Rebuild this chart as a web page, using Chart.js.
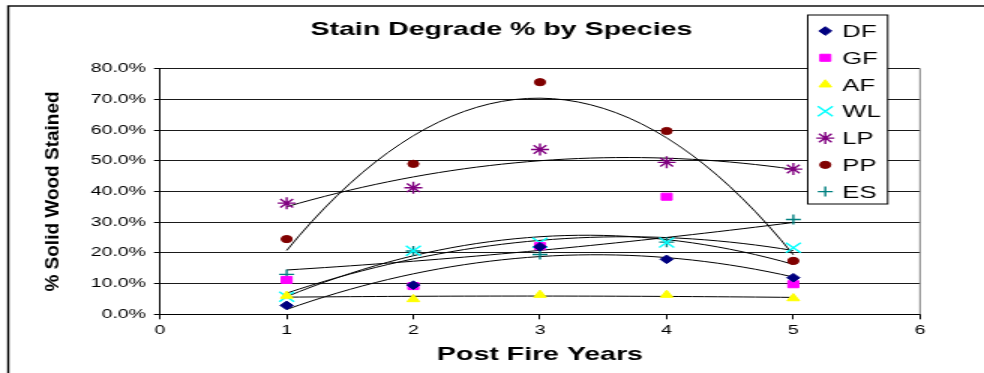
<!DOCTYPE html>
<html>
<head>
<meta charset="utf-8">
<script src="https://cdn.jsdelivr.net/npm/chart.js@4/dist/chart.umd.min.js"></script>
<style>
  html, body { margin: 0; padding: 0; background: #fff; overflow: hidden; }
  /* the original picture is stretched sideways, so the chart is drawn narrow and widened */
  #wrap { width: 656px; height: 373px; transform: scaleX(1.5); transform-origin: 0 0; }
</style>
</head>
<body>
<div id="wrap"><canvas id="myChart" width="656" height="373"></canvas></div>
<script>
'use strict';
let years = [1, 2, 3, 4, 5];
let species = ['DF', 'GF', 'AF', 'WL', 'LP', 'PP', 'ES'];
let dfVals = [2.9, 9.5, 22.0, 17.9, 11.9];
let gfVals = [11.2, 9.2, 22.2, 38.3, 9.8];
let afVals = [6.0, 4.9, 6.3, 6.3, 5.2];
let wlVals = [5.7, 20.7, 23.3, 23.4, 21.7];
let lpVals = [36.2, 41.2, 53.7, 49.5, 47.3];
let ppVals = [24.5, 49.0, 75.6, 59.7, 17.4];
let esVals = [13.0, 20.6, 19.5, 23.5, 30.9];
let allVals = [dfVals, gfVals, afVals, wlVals, lpVals, ppVals, esVals];

let colors = ['#000080', '#FF00FF', '#FFFF00', '#00FFFF', '#800080', '#800000', '#008080'];
let styles = ['rectRot', 'rect', 'triangle', 'crossRot', 'star', 'circle', 'cross'];
let radii = [4.3, 5, 4.8, 7, 6, 3.6, 5];

// 2nd order polynomial trendline, least squares like the spreadsheet does
function quadFit(xs, ys) {
    let n = xs.length, sx = 0, sx2 = 0, sx3 = 0, sx4 = 0, sy = 0, sxy = 0, sx2y = 0;
    for (let i = 0; i < n; i++) {
        let x = xs[i], y = ys[i];
        sx += x; sx2 += x * x; sx3 += x * x * x; sx4 += x * x * x * x;
        sy += y; sxy += x * y; sx2y += x * x * y;
    }
    function det(m) {
        return m[0][0] * (m[1][1] * m[2][2] - m[1][2] * m[2][1])
             - m[0][1] * (m[1][0] * m[2][2] - m[1][2] * m[2][0])
             + m[0][2] * (m[1][0] * m[2][1] - m[1][1] * m[2][0]);
    }
    let M = [[n, sx, sx2], [sx, sx2, sx3], [sx2, sx3, sx4]];
    let R = [sy, sxy, sx2y];
    let D = det(M);
    let coef = [];
    for (let k = 0; k < 3; k++) {
        let Mk = M.map((row, r) => row.map((v, c) => (c === k ? R[r] : v)));
        coef.push(det(Mk) / D);
    }
    return coef;
}

function trendPoints(vals) {
    let c = quadFit(years, vals);
    let pts = [];
    for (let i = 0; i <= 40; i++) {
        let x = 1 + i * 0.1;
        pts.push({ x: x, y: c[0] + c[1] * x + c[2] * x * x });
    }
    return pts;
}

let datasets = [];
for (let i = 0; i < species.length; i++) {
    datasets.push({
        label: species[i],
        data: years.map((x, j) => ({ x: x, y: allVals[i][j] })),
        pointStyle: styles[i],
        pointRadius: radii[i],
        pointHoverRadius: radii[i],
        backgroundColor: colors[i],
        borderColor: colors[i],
        borderWidth: (styles[i] === 'cross' || styles[i] === 'crossRot' || styles[i] === 'star') ? 1.4 : 1,
        showLine: false,
        order: 1
    });
}
for (let i = 0; i < species.length; i++) {
    datasets.push({
        label: species[i] + ' trend',
        data: trendPoints(allVals[i]),
        showLine: true,
        borderColor: '#000',
        borderWidth: 1,
        pointRadius: 0,
        fill: false,
        tension: 0,
        order: 2
    });
}

let fontFam = "'Liberation Sans', Arial, sans-serif";

let framePlugin = {
    id: 'frame',
    beforeDraw(chart) {
        let ctx = chart.ctx;
        ctx.save();
        ctx.fillStyle = '#fff';
        ctx.fillRect(0, 0, chart.width, chart.height);
        ctx.restore();
    },
    afterDraw(chart) {
        let ctx = chart.ctx;
        let area = chart.chartArea;
        ctx.save();
        // right edge of plot area
        ctx.strokeStyle = '#808080';
        ctx.lineWidth = 1;
        ctx.beginPath();
        ctx.moveTo(area.right, area.top);
        ctx.lineTo(area.right, area.bottom);
        ctx.stroke();

        // outer border
        ctx.strokeStyle = '#000';
        ctx.lineWidth = 1.4;
        ctx.strokeRect(5.5, 6, 800, 500);

        // title
        ctx.fillStyle = '#000';
        ctx.font = 'bold 19px ' + fontFam;
        ctx.textAlign = 'center';
        ctx.textBaseline = 'alphabetic';
        ctx.fillText('Stain Degrade % by Species', 334.3, 35);

        // y axis title, squeezed like in the original
        ctx.save();
        ctx.translate(35, (area.top + area.bottom) / 2);
        ctx.scale(0.72, 1);
        ctx.rotate(-Math.PI / 2);
        ctx.textBaseline = 'middle';
        ctx.fillText('% Solid Wood Stained', 0, 0);
        ctx.restore();

        // legend box
        let lx = 538.5, ly = 15, lw = 53.3, lh = 189;
        ctx.fillStyle = '#fff';
        ctx.fillRect(lx, ly, lw, lh);
        ctx.strokeStyle = '#000';
        ctx.lineWidth = 1;
        ctx.strokeRect(lx, ly, lw, lh);
        ctx.font = '17px ' + fontFam;
        ctx.textAlign = 'left';
        ctx.textBaseline = 'alphabetic';
        for (let i = 0; i < species.length; i++) {
            let cy = 31 + i * 26.77;
            ctx.fillStyle = colors[i];
            ctx.strokeStyle = colors[i];
            ctx.lineWidth = datasets[i].borderWidth;
            Chart.helpers.drawPoint(ctx, { pointStyle: styles[i], radius: radii[i], rotation: 0, borderWidth: datasets[i].borderWidth }, 550.2, cy);
            ctx.fillStyle = '#000';
            ctx.fillText(species[i], 561.6, cy + 6);
        }
        ctx.restore();
    }
};

let ctx = document.getElementById('myChart').getContext('2d');
let myChart = new Chart(ctx, {
    type: 'scatter',
    data: { datasets: datasets },
    options: {
        responsive: false,
        animation: false,
        devicePixelRatio: 1,
        layout: { padding: { top: 68.7, right: 42.67, bottom: 0, left: 0 } },
        plugins: {
            legend: { display: false },
            tooltip: { enabled: false },
            title: { display: false }
        },
        scales: {
            x: {
                type: 'linear',
                min: 0,
                max: 6,
                afterFit(scale) { scale.height = 58.7; },
                ticks: { stepSize: 1, color: '#000', padding: 3, font: { family: fontFam, size: 13 } },
                grid: { drawOnChartArea: false, drawTicks: true, tickLength: 5, color: '#000', tickColor: '#000' },
                border: { color: '#000', width: 1 },
                title: {
                    display: true,
                    text: 'Post Fire Years',
                    color: '#000',
                    font: { family: fontFam, size: 19, weight: 'bold' },
                    padding: { top: 0, bottom: 7 }
                }
            },
            y: {
                min: 0,
                max: 80,
                afterFit(scale) { scale.width = 106.67; },
                ticks: {
                    stepSize: 10,
                    color: '#000',
                    padding: 5.3,
                    font: { family: fontFam, size: 13 },
                    callback: (v) => v.toFixed(1) + '%'
                },
                grid: { color: '#1a1a1a', lineWidth: 1, tickLength: 4, tickColor: '#000' },
                border: { color: '#000', width: 1 }
            }
        }
    },
    plugins: [framePlugin]
});
</script>
</body>
</html>
